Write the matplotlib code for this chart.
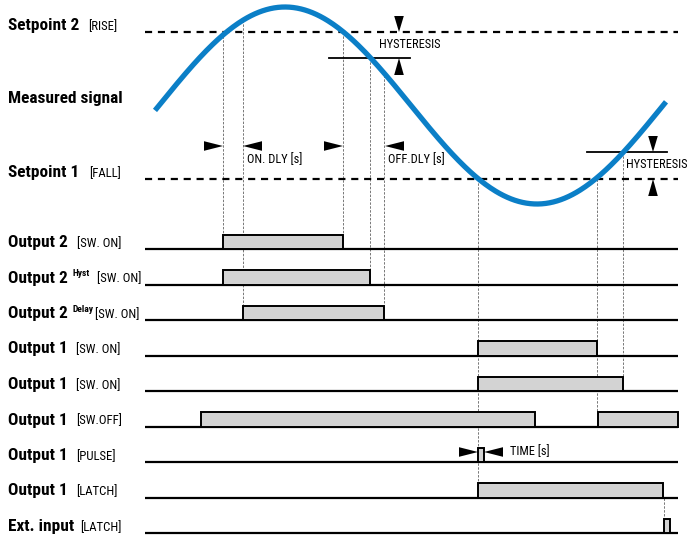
import matplotlib.pyplot as plt
import numpy as np
from matplotlib.patches import Rectangle, Polygon

plt.rcParams['font.family'] = ['Roboto Condensed', 'DejaVu Sans']

# measured signal (pixel units, y grows downward)
signal_x_range = (155, 666)
signal_peak = (285, 7)
signal_trough = (537, 204)

# levels
setpoint2_y = 32
setpoint1_y = 179
hyst2_y = 58
hyst1_y = 152

# output rows
row_names = ["Output 2", "Output 2", "Output 2", "Output 1", "Output 1",
             "Output 1", "Output 1", "Output 1", "Ext. input"]
row_sup = ["", "Hyst", "Delay", "", "", "", "", "", ""]
row_tags = ["[SW. ON]", "[SW. ON]", "[SW. ON]", "[SW. ON]", "[SW. ON]",
            "[SW.OFF]", "[PULSE]", "[LATCH]", "[LATCH]"]
row_y = [249, 284.5, 320, 355.5, 391, 426.5, 462, 497.5, 533]
row_on = [[(223, 343)], [(223, 370)], [(243, 384)], [(478, 597)], [(478, 623)],
          [(201, 535), (598, 678)], [(478, 484)], [(478, 663)], [(664, 670)]]

# switching instants (x, from y, to y)
guides = [(223, 32, 234), (243, 20, 305), (343, 32, 234), (370, 58, 270),
          (384, 75, 305), (478, 179, 483), (597, 179, 413), (623, 152, 377),
          (664, 498, 518)]

# arrow heads (tip x, tip y, direction)
arrows = [(223, 146, 'r'), (243, 146, 'l'), (343, 146, 'r'), (385, 146, 'l'),
          (399, 32, 'd'), (399, 58, 'u'), (653, 152, 'd'), (653, 179, 'u'),
          (478, 452, 'r'), (484, 452, 'l')]

notes = [("HYSTERESIS", 379, 45), ("HYSTERESIS", 626, 165),
         ("ON. DLY [s]", 247, 160), ("OFF.DLY [s]", 388, 160),
         ("TIME [s]", 510, 452)]

W, H = 694, 541
fig = plt.figure(figsize=(W / 100, H / 100), dpi=100)
ax = fig.add_axes([0, 0, 1, 1])
ax.set_xlim(0, W)
ax.set_ylim(H, 0)
ax.axis('off')

BLUE = '#0b7fc7'
LINE_L, LINE_R = 145, 678

# setpoints
for y in (setpoint2_y, setpoint1_y):
    ax.plot([LINE_L, LINE_R], [y, y], color='black', lw=1.6,
            linestyle=(0, (3.2, 2.6)), zorder=2)

# hysteresis bars
ax.plot([329, 410], [hyst2_y, hyst2_y], color='black', lw=1.3, zorder=2)
ax.plot([587, 667], [hyst1_y, hyst1_y], color='black', lw=1.3, zorder=2)

# signal
center = (signal_peak[1] + signal_trough[1]) / 2
amp = (signal_trough[1] - signal_peak[1]) / 2
period = 2 * (signal_trough[0] - signal_peak[0])
xs = np.linspace(signal_x_range[0], signal_x_range[1], 400)
ys = center - amp * np.cos(2 * np.pi * (xs - signal_peak[0]) / period)
ax.plot(xs, ys, color=BLUE, lw=3.8, solid_capstyle='butt', zorder=4)

# guides
for gx, y0, y1 in guides:
    ax.plot([gx, gx], [y0, y1], color='#777777', lw=0.7,
            linestyle=(0, (2.5, 1.5)), zorder=1)

# rows
for y, spans in zip(row_y, row_on):
    ax.plot([LINE_L, LINE_R], [y, y], color='black', lw=1.6, zorder=2,
            solid_capstyle='butt')
    for a, b in spans:
        ax.add_patch(Rectangle((a, y - 14.5), b - a, 14.5, facecolor='#d3d3d3',
                               edgecolor='black', lw=1.4, zorder=3))

# arrow heads
L, Hh = 19, 4.8
for tx, ty, d in arrows:
    if d == 'r':
        pts = [(tx, ty), (tx - L, ty - Hh), (tx - L, ty + Hh)]
    elif d == 'l':
        pts = [(tx, ty), (tx + L, ty - Hh), (tx + L, ty + Hh)]
    elif d == 'd':
        pts = [(tx, ty), (tx - Hh, ty - 16), (tx + Hh, ty - 16)]
    else:
        pts = [(tx, ty), (tx - Hh, ty + 17), (tx + Hh, ty + 17)]
    ax.add_patch(Polygon(pts, closed=True, facecolor='black', edgecolor='none',
                         zorder=5))

for txt, x, y in notes:
    ax.text(x, y, txt, fontsize=8.9, va='center', ha='left', zorder=6)

# left labels for signal part
big = 12.4
small = 9.2
ax.text(8, 30, "Setpoint 2", fontsize=big, fontweight='bold', va='baseline')
ax.text(88, 30, "[RISE]", fontsize=small, va='baseline')
ax.text(8, 103, "Measured signal", fontsize=big, fontweight='bold', va='baseline')
ax.text(8, 177, "Setpoint 1", fontsize=big, fontweight='bold', va='baseline')
ax.text(89, 177, "[FALL]", fontsize=small, va='baseline')

# left labels for output rows
tag_x = [77, 97, 95, 76, 76, 76, 76, 76, 80]
for name, sup, tag, y, tx in zip(row_names, row_sup, row_tags, row_y, tag_x):
    ax.text(8, y - 2, name, fontsize=big, fontweight='bold', va='baseline')
    if sup:
        ax.text(73, y - 8, sup, fontsize=6.8, fontweight='bold', va='baseline')
    ax.text(tx, y - 2, tag, fontsize=small, va='baseline')

fig.savefig('out.png', dpi=100)
